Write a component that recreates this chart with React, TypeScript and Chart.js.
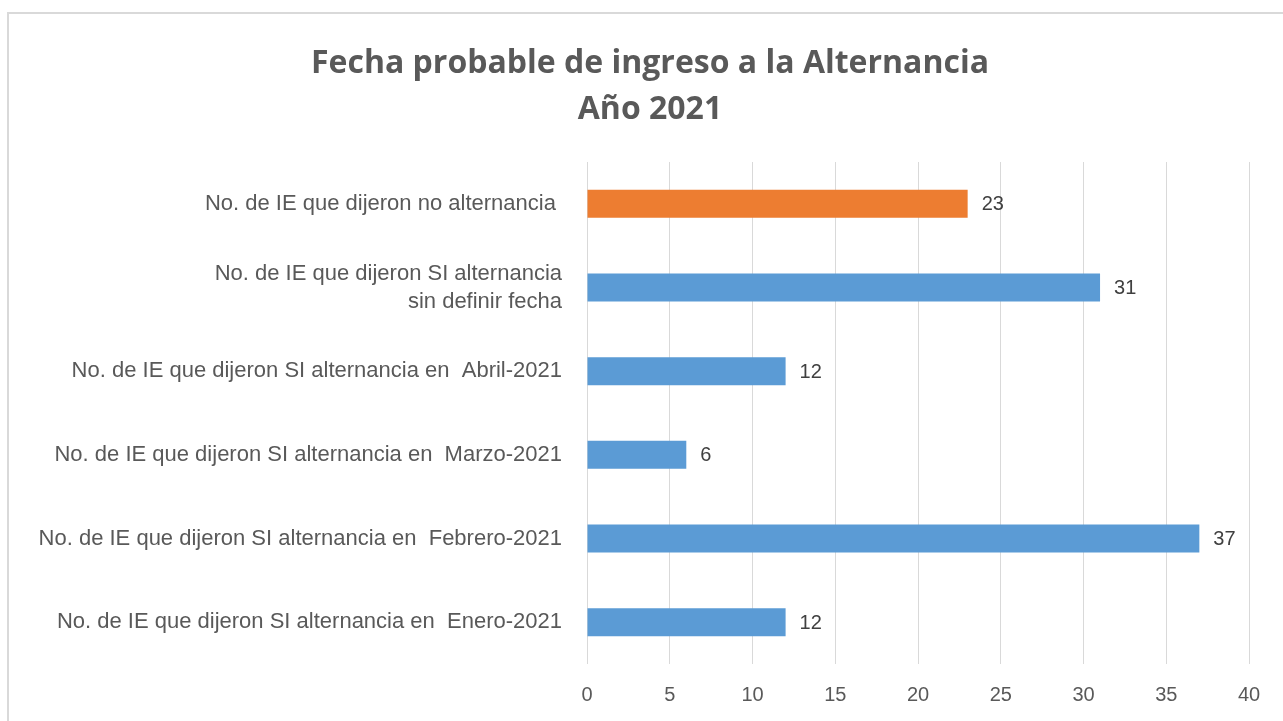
import React, { useEffect, useRef } from "react";
import { Chart, registerables } from "chart.js";

Chart.register(...registerables);

const categories: (string | string[])[] = [
  "No. de IE que dijeron no alternancia ",
  ["No. de IE que dijeron SI alternancia", "sin definir fecha"],
  "No. de IE que dijeron SI alternancia en  Abril-2021",
  "No. de IE que dijeron SI alternancia en  Marzo-2021",
  "No. de IE que dijeron SI alternancia en  Febrero-2021",
  "No. de IE que dijeron SI alternancia en  Enero-2021",
];
const values = [23, 31, 12, 6, 37, 12];
const barColors = ["#ED7D31", "#5B9BD5", "#5B9BD5", "#5B9BD5", "#5B9BD5", "#5B9BD5"];
const titleLines = ["Fecha probable de ingreso a la Alternancia", "Año 2021"];
const xMin = 0;
const xMax = 40;
const xStep = 5;

const labelFont = "'Liberation Sans', Arial, sans-serif";

const valueLabels = {
  id: "valueLabels",
  afterDatasetsDraw(chart: any) {
    const ctx = chart.ctx;
    ctx.save();
    ctx.font = `20px ${labelFont}`;
    ctx.fillStyle = "#404040";
    ctx.textAlign = "left";
    ctx.textBaseline = "middle";
    chart.getDatasetMeta(0).data.forEach((bar: any, i: number) => {
      ctx.fillText(String(values[i]), bar.x + 14, bar.y + 1);
    });
    ctx.restore();
  },
};

export default function App() {
  const ref = useRef<HTMLCanvasElement>(null);
  useEffect(() => {
    if (!ref.current) return;
    const chart = new Chart(ref.current, {
      type: "bar",
      data: {
        labels: categories,
        datasets: [
          {
            data: values,
            backgroundColor: barColors,
            borderWidth: 0,
            barPercentage: 0.335,
            categoryPercentage: 1,
          },
        ],
      },
      options: {
        indexAxis: "y",
        animation: false,
        responsive: false,
        maintainAspectRatio: false,
        layout: { padding: { top: 10, left: 0, right: 0, bottom: 0 } },
        plugins: {
          legend: { display: false },
          tooltip: { enabled: false },
          title: {
            display: true,
            text: titleLines,
            color: "#595959",
            font: { family: "'Open Sans', sans-serif", size: 32, weight: "bold", lineHeight: 46 / 32 },
            padding: { top: 17, bottom: 29 },
          },
        },
        scales: {
          x: {
            min: xMin,
            max: xMax,
            ticks: {
              stepSize: xStep,
              color: "#595959",
              font: { family: labelFont, size: 20 },
              padding: 19,
            },
            grid: { color: "#d9d9d9", drawTicks: false, lineWidth: 1 },
            border: { display: false },
            afterFit(scale: any) {
              scale.height = 57;
            },
          },
          y: {
            ticks: {
              color: "#595959",
              font: { family: labelFont, size: 22, lineHeight: 28 / 22 },
              padding: 25,
              autoSkip: false,
            },
            grid: { display: false, drawTicks: false },
            border: { display: false },
            afterFit(scale: any) {
              scale.width = 578;
            },
          },
          ySpacer: {
            type: "category",
            position: "right",
            axis: "y",
            labels: categories.map(() => ""),
            ticks: { display: false },
            grid: { display: false, drawTicks: false },
            border: { display: false },
            afterFit(scale: any) {
              scale.width = 42;
            },
          },
        },
      },
      plugins: [valueLabels],
    } as any);
    return () => chart.destroy();
  }, []);

  return (
    <div
      style={{
        position: "fixed",
        left: 7,
        top: 12,
        width: 1300,
        height: 730,
        border: "2px solid #d9d9d9",
        background: "#fff",
        boxSizing: "border-box",
      }}
    >
      <canvas ref={ref} width={1282} height={707} style={{ display: "block", width: 1282, height: 707 }} />
    </div>
  );
}
